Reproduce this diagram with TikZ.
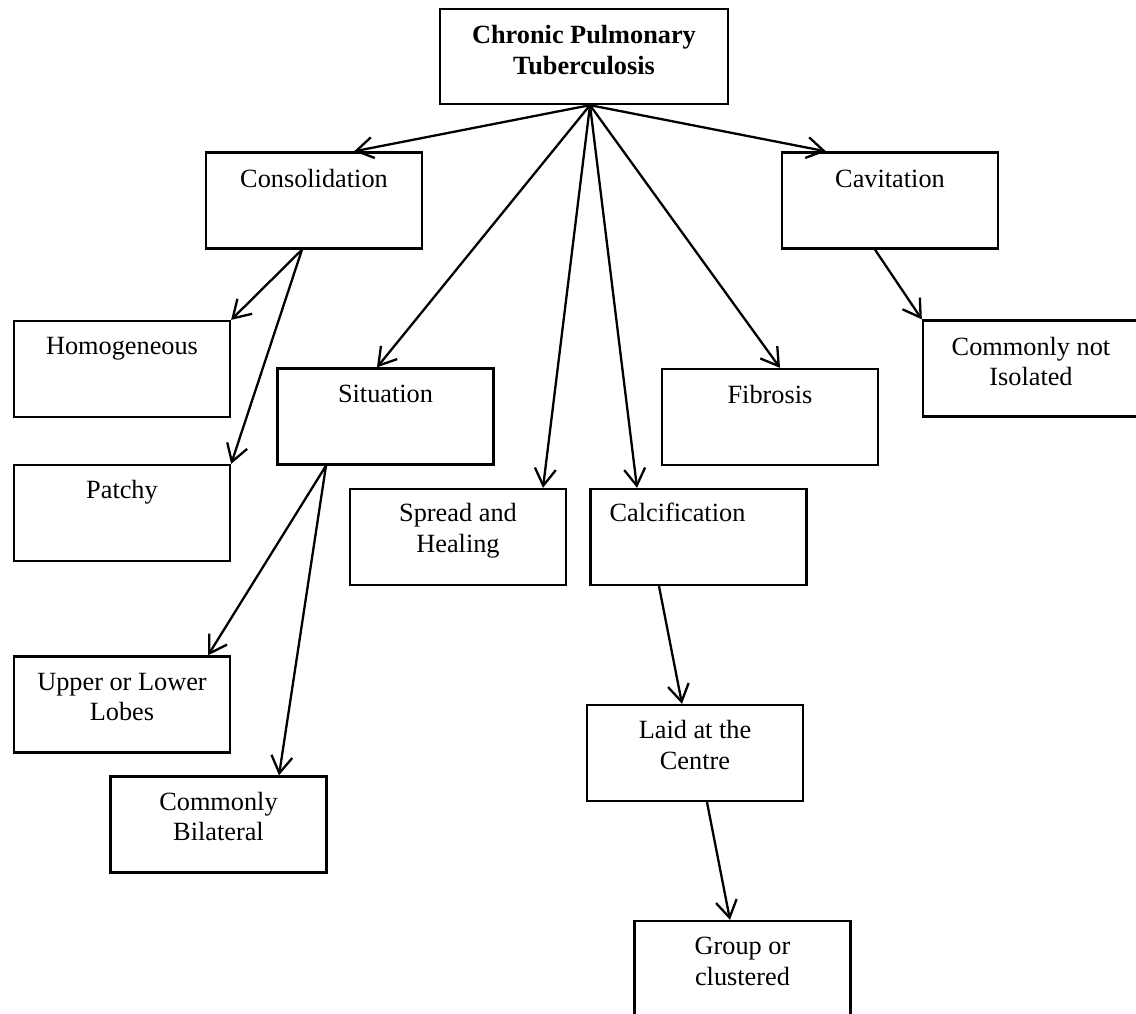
\documentclass[tikz,border=0pt]{standalone}
\usepackage{fontspec}
\setmainfont{Liberation Serif}
\usetikzlibrary{arrows.meta}
\newcommand\stk[1]{\begin{tabular}[t]{@{}c@{}}#1\end{tabular}}
\begin{document}
\begin{tikzpicture}[x=1pt,y=-1pt,
  font=\fontsize{26.3}{30.5}\selectfont,
  box/.style={draw, line width=2.3pt, minimum width=216pt, minimum height=96pt, inner sep=0pt},
  txt/.style={anchor=base, inner sep=0pt},
  link/.style={draw, line width=2.3pt, -{Straight Barb[length=17pt,width=21pt,line width=2.3pt]}}]
\useasboundingbox (0,0) rectangle (1136,1013);
\clip (0,0) rectangle (1136,1013);

% boxes
\node[box, minimum width=288pt, minimum height=95pt] (top) at (584,56.5) {};
\node[box] (cons)   at (314,200.5) {};
\node[box] (cav)    at (890,200.5) {};
\node[box] (homo)   at (122,369)   {};
\node[box] (patchy) at (122,513)   {};
\node[box] (sit)    at (385.5,416.5) {};
\node[box] (fib)    at (770,417)   {};
\node[box] (cni)    at (1031,368.5) {};
\node[box] (spread) at (458,537)   {};
\node[box] (calc)   at (698.5,537) {};
\node[box] (upper)  at (122,704.5) {};
\node[box] (bilat)  at (218.5,824.5) {};
\node[box] (laid)   at (695,753)   {};
\node[box] (group)  at (742.5,969) {};

% labels, first baseline about 35pt below each box top
\node[txt] (top-t)    at ([yshift=-36pt]top.north)    {\bfseries\stk{Chronic Pulmonary\\Tuberculosis}};
\node[txt] (cons-t)   at ([yshift=-36pt]cons.north)   {Consolidation};
\node[txt] (cav-t)    at ([yshift=-36pt]cav.north)    {Cavitation};
\node[txt] (homo-t)   at ([yshift=-35pt]homo.north)   {Homogeneous};
\node[txt] (patchy-t) at ([yshift=-35pt]patchy.north) {Patchy};
\node[txt] (sit-t)    at ([yshift=-35pt]sit.north)    {Situation};
\node[txt] (fib-t)    at ([yshift=-36pt]fib.north)    {Fibrosis};
\node[txt] (cni-t)    at ([yshift=-36pt]cni.north)    {\stk{Commonly not\\Isolated}};
\node[txt] (spread-t) at ([yshift=-34pt]spread.north) {\stk{Spread and\\Healing}};
\node[txt, anchor=base west] (calc-t) at ([xshift=20pt,yshift=-34pt]calc.north west) {Calcification};
\node[txt] (upper-t)  at ([yshift=-35pt]upper.north)  {\stk{Upper or Lower\\Lobes}};
\node[txt] (bilat-t)  at ([yshift=-35pt]bilat.north)  {\stk{Commonly\\Bilateral}};
\node[txt] (laid-t)   at ([yshift=-35pt]laid.north)   {\stk{Laid at the\\Centre}};
\node[txt] (group-t)  at ([yshift=-35pt]group.north)  {\stk{Group or\\clustered}};

% connectors
\coordinate (hub) at ([xshift=6pt]top.south);
\path[link] (hub) -- ([xshift=40pt]cons.north);
\path[link] (hub) -- ([xshift=-64pt]cav.north);
\path[link] (hub) -- ([xshift=-8.5pt]sit.north);
\path[link] (hub) -- ([xshift=85pt]spread.north);
\path[link] (hub) -- ([xshift=-61.5pt]calc.north);
\path[link] (hub) -- ([xshift=10pt]fib.north);

\path[link] ([xshift=-12pt]cons.south) -- (homo.north east);
\path[link] ([xshift=-12pt]cons.south) -- (patchy.north east);

\path[link] ([xshift=-15pt]cav.south) -- (cni.north west);

\path[link] ([xshift=-59.5pt]sit.south) -- ([xshift=86pt]upper.north);
\path[link] ([xshift=-59.5pt]sit.south) -- ([xshift=60.5pt]bilat.north);

\path[link] ([xshift=-39.5pt]calc.south) -- ([xshift=-13pt]laid.north);
\path[link] ([xshift=12pt]laid.south) -- ([xshift=-12.5pt]group.north);
\end{tikzpicture}
\end{document}
